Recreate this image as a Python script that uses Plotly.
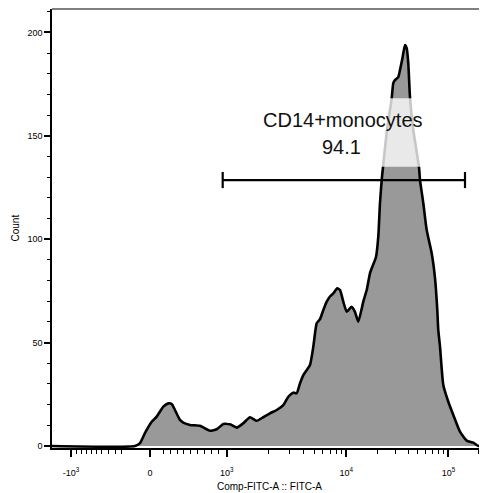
import numpy as np
import plotly.graph_objects as go

# ---- histogram (display channel 0..1024, count) ----
channel = [0, 195.4, 207.2, 219.0, 234.7, 246.5, 262.0, 273.8, 281.8, 289.5,
           301.3, 309.1, 324.8, 348.4, 371.9, 387.7, 403.2, 419.0, 434.8, 450.3,
           466.1, 481.9, 497.4, 513.2, 528.9, 544.5, 556.3, 568.0, 576.0, 583.8,
           591.6, 607.3, 615.1, 623.1, 630.9, 638.6, 646.6, 654.4, 662.2, 671.6,
           678.0, 685.7, 693.7, 705.0, 713.3, 721.0, 732.8, 740.8, 748.6, 752.6,
           762.7, 768.1, 772.1, 776.1, 779.2, 788.6, 799.7, 803.4, 807.4, 815.2,
           819.2, 825.5, 830.9, 834.9, 838.7, 842.7, 850.5, 863.9, 866.3, 874.0,
           882.0, 893.8, 901.6, 907.0, 909.3, 913.4, 921.1, 932.9, 944.7, 960.4,
           976.2, 991.7, 1003.5, 1015.3, 1024]
count = [0, 0, 1.4, 6.3, 11.7, 14.2, 19.0, 20.6, 20.3, 17.4,
         12.6, 11.3, 10.2, 9.8, 7.4, 8.1, 10.6, 10.5, 8.9, 11.0,
         13.9, 12.2, 13.9, 15.8, 17.4, 19.8, 23.8, 25.8, 25.5, 30.3,
         34.3, 39.2, 48.0, 59.3, 61.3, 65.7, 69.8, 72.3, 73.8, 76.2,
         75.4, 69.8, 64.9, 67.3, 64.8, 60.1, 69.8, 75.4, 83.6, 85.9,
         91.4, 101.2, 117.5, 128.6, 134.9, 152.8, 168.2, 175.5, 176.9, 178.4,
         181.8, 188.1, 193.9, 192.4, 185.2, 168.7, 152.8, 134.9, 128.6, 117.5,
         104.4, 93.2, 81.2, 65.7, 56.1, 48.0, 29.5, 21.4, 15.0, 6.9,
         2.6, 1.6, 0, 1.0, 0.5]

# ---- gate ----
gate_name = "CD14+monocytes"
gate_value = "94.1"
gate_channel = [401.8, 972.2]
gate_count = 128.6

# ---- axis ticks (FITC values) ----
major_vals = [-1000, 0, 1000, 10000, 100000]
major_text = ["-10<sup>3</sup>", "0", "10<sup>3</sup>", "10<sup>4</sup>", "10<sup>5</sup>"]
minor_vals = ([-900, -800, -700, -600, -500, -400, -300, -200, -100]
              + [100, 200, 300, 400, 500, 600, 700, 800, 900]
              + [2000, 3000, 4000, 5000, 6000, 7000, 8000, 9000]
              + [20000, 30000, 40000, 50000, 60000, 70000, 80000, 90000]
              + [200000])
y_major = [0, 50, 100, 150, 200]


def to_channel(v):
    """Biexponential-like display scale: FITC value -> display channel."""
    v = np.asarray(v, dtype=float)
    lin = np.interp(v, [-1000, -400, -100, 0, 100, 900, 1000],
                    [44.7, 117.0, 164.1, 230.7, 262.0, 391.5, 411.2])
    logp = 411.2 + 236.6 * (np.log10(np.maximum(v - 380, 1)) - np.log10(620))
    return np.where(v > 1000, logp, lin)


FONT = "Liberation Sans, Arial, sans-serif"

fig = go.Figure()
fig.add_trace(go.Scatter(
    x=channel, y=count, mode="lines", fill="tozeroy",
    fillcolor="#999999", line=dict(color="black", width=2.6, shape="spline", smoothing=0.5),
    hoverinfo="skip", showlegend=False))

# gate bar with end caps
cap = 3.9
gx = [gate_channel[0], gate_channel[1], None, gate_channel[0], gate_channel[0], None,
      gate_channel[1], gate_channel[1]]
gy = [gate_count, gate_count, None, gate_count - cap, gate_count + cap, None,
      gate_count - cap, gate_count + cap]
fig.add_trace(go.Scatter(x=gx, y=gy, mode="lines", line=dict(color="black", width=2.2),
                         hoverinfo="skip", showlegend=False))

# translucent label box
fig.add_shape(type="rect", x0=478, x1=893, y0=135.0, y1=168.1, layer="above",
              line=dict(width=0), fillcolor="rgba(255,255,255,0.78)")
fig.add_annotation(x=(gate_channel[0] + gate_channel[1]) / 2 - 3, y=157.8, text=gate_name,
                   showarrow=False, font=dict(family=FONT, size=20, color="#111111"))
fig.add_annotation(x=(gate_channel[0] + gate_channel[1]) / 2 - 5, y=144.8, text=gate_value,
                   showarrow=False, font=dict(family=FONT, size=20, color="#111111"))

# axis titles
fig.add_annotation(xref="paper", yref="paper", x=0.5, y=-0.0888, yanchor="middle",
                   text="Comp-FITC-A :: FITC-A",
                   showarrow=False, font=dict(family=FONT, size=10, color="black"))
fig.add_annotation(xref="paper", yref="paper", x=-0.085, y=0.5, xanchor="center",
                   text="Count", textangle=-90,
                   showarrow=False, font=dict(family=FONT, size=10, color="black"))

# top frame line
fig.add_shape(type="line", xref="paper", yref="paper", x0=0, x1=1, y0=1, y1=1,
              line=dict(color="#555555", width=1.5))

# page body adds an 8px margin, so the figure is 8px smaller on each axis
fig.update_layout(
    width=479, height=485,
    margin=dict(l=44, r=0, t=1, b=45, autoexpand=False),
    paper_bgcolor="white", plot_bgcolor="white",
    font=dict(family=FONT, size=9, color="black"),
    xaxis=dict(
        range=[0, 1024], showgrid=False, zeroline=False, automargin=False,
        showline=True, linecolor="black", linewidth=1.5,
        tickmode="array", tickvals=to_channel(major_vals).tolist(), ticktext=major_text,
        ticks="outside", ticklen=7, tickwidth=1.5, tickcolor="black",
        ticklabelstandoff=8,
        tickfont=dict(family=FONT, size=9),
        minor=dict(tickmode="array", tickvals=to_channel(minor_vals).tolist(),
                   ticks="outside", ticklen=4, tickwidth=1, tickcolor="black"),
    ),
    yaxis=dict(
        range=[-0.97, 211.3], showgrid=False, zeroline=False, automargin=False,
        showline=True, linecolor="black", linewidth=1.5,
        tickmode="array", tickvals=y_major, ticktext=[str(v) for v in y_major],
        ticks="outside", ticklen=6, tickwidth=1.5, tickcolor="black",
        tickfont=dict(family=FONT, size=9),
        minor=dict(dtick=10, tick0=0, ticks="outside", ticklen=3, tickwidth=1, tickcolor="black"),
    ),
)

fig.write_html("out.html")
